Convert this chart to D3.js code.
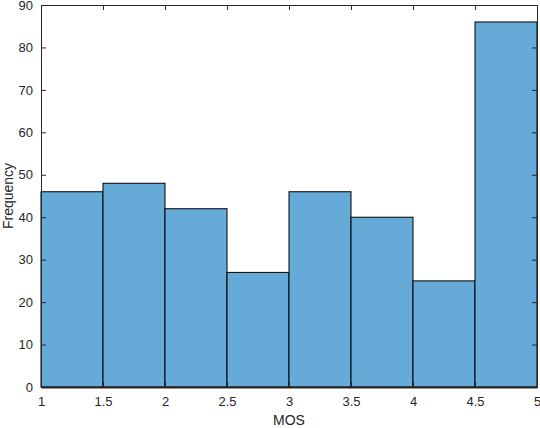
<!DOCTYPE html>
<html>
<head>
<meta charset="utf-8">
<script src="https://cdn.jsdelivr.net/npm/d3@7"></script>
<style>
  body { margin: 0; background: #fff; }
  text { font-family: "Liberation Sans", Arial, sans-serif; }
</style>
</head>
<body>
<div id="chart"></div>
<script>
// bords des classes et effectifs
const binEdges = [1, 1.5, 2, 2.5, 3, 3.5, 4, 4.5, 5];
const counts = [46, 48, 42, 27, 46, 40, 25, 86];
const xTicks = [1, 1.5, 2, 2.5, 3, 3.5, 4, 4.5, 5];
const yTicks = [0, 10, 20, 30, 40, 50, 60, 70, 80, 90];

const W = 540, H = 428;
const margin = { top: 5, right: 3, bottom: 41, left: 41 };
const width = W - margin.left - margin.right;
const height = H - margin.top - margin.bottom;

const svg = d3.select('#chart').append('svg')
    .attr('width', W)
    .attr('height', H);

const g = svg.append('g')
    .attr('transform', `translate(${margin.left},${margin.top})`);

const x = d3.scaleLinear().domain([1, 5]).range([0, width]);
const y = d3.scaleLinear().domain([0, 90]).range([height, 0]);

// barres
g.selectAll('rect.bar')
    .data(counts)
    .enter().append('rect')
    .attr('class', 'bar')
    .attr('x', (d, i) => x(binEdges[i]))
    .attr('y', d => y(d))
    .attr('width', (d, i) => x(binEdges[i + 1]) - x(binEdges[i]))
    .attr('height', d => height - y(d))
    .attr('fill', '#66aad7')
    .attr('stroke', '#000')
    .attr('stroke-width', 1);

// axes (ticks vers l'intérieur, style MATLAB)
const xAxis = g.append('g')
    .attr('transform', `translate(0,${height})`)
    .call(d3.axisBottom(x).tickValues(xTicks).tickSizeInner(-5).tickSizeOuter(0).tickPadding(10)
        .tickFormat(d3.format('~g')));
const xTop = g.append('g')
    .call(d3.axisTop(x).tickValues(xTicks).tickSizeInner(-5).tickSizeOuter(0).tickFormat(''));
const yAxis = g.append('g')
    .call(d3.axisLeft(y).tickValues(yTicks).tickSizeInner(-5).tickSizeOuter(0).tickPadding(8));
const yRight = g.append('g')
    .attr('transform', `translate(${width},0)`)
    .call(d3.axisRight(y).tickValues(yTicks).tickSizeInner(-5).tickSizeOuter(0).tickFormat(''));

[xAxis, xTop, yAxis, yRight].forEach(a => {
    a.selectAll('.domain').attr('stroke', '#262626');
    a.selectAll('.tick line').attr('stroke', '#262626');
    a.selectAll('text').style('font-size', '13px').attr('fill', '#262626');
});
xAxis.selectAll('.domain').attr('stroke-width', 2);

// titres des axes
svg.append('text')
    .attr('x', margin.left + width / 2)
    .attr('y', 425)
    .attr('text-anchor', 'middle')
    .style('font-size', '14px')
    .attr('fill', '#262626')
    .text('MOS');

svg.append('text')
    .attr('transform', `translate(13,${margin.top + height / 2}) rotate(-90)`)
    .attr('text-anchor', 'middle')
    .style('font-size', '14px')
    .attr('fill', '#262626')
    .text('Frequency');
</script>
</body>
</html>
